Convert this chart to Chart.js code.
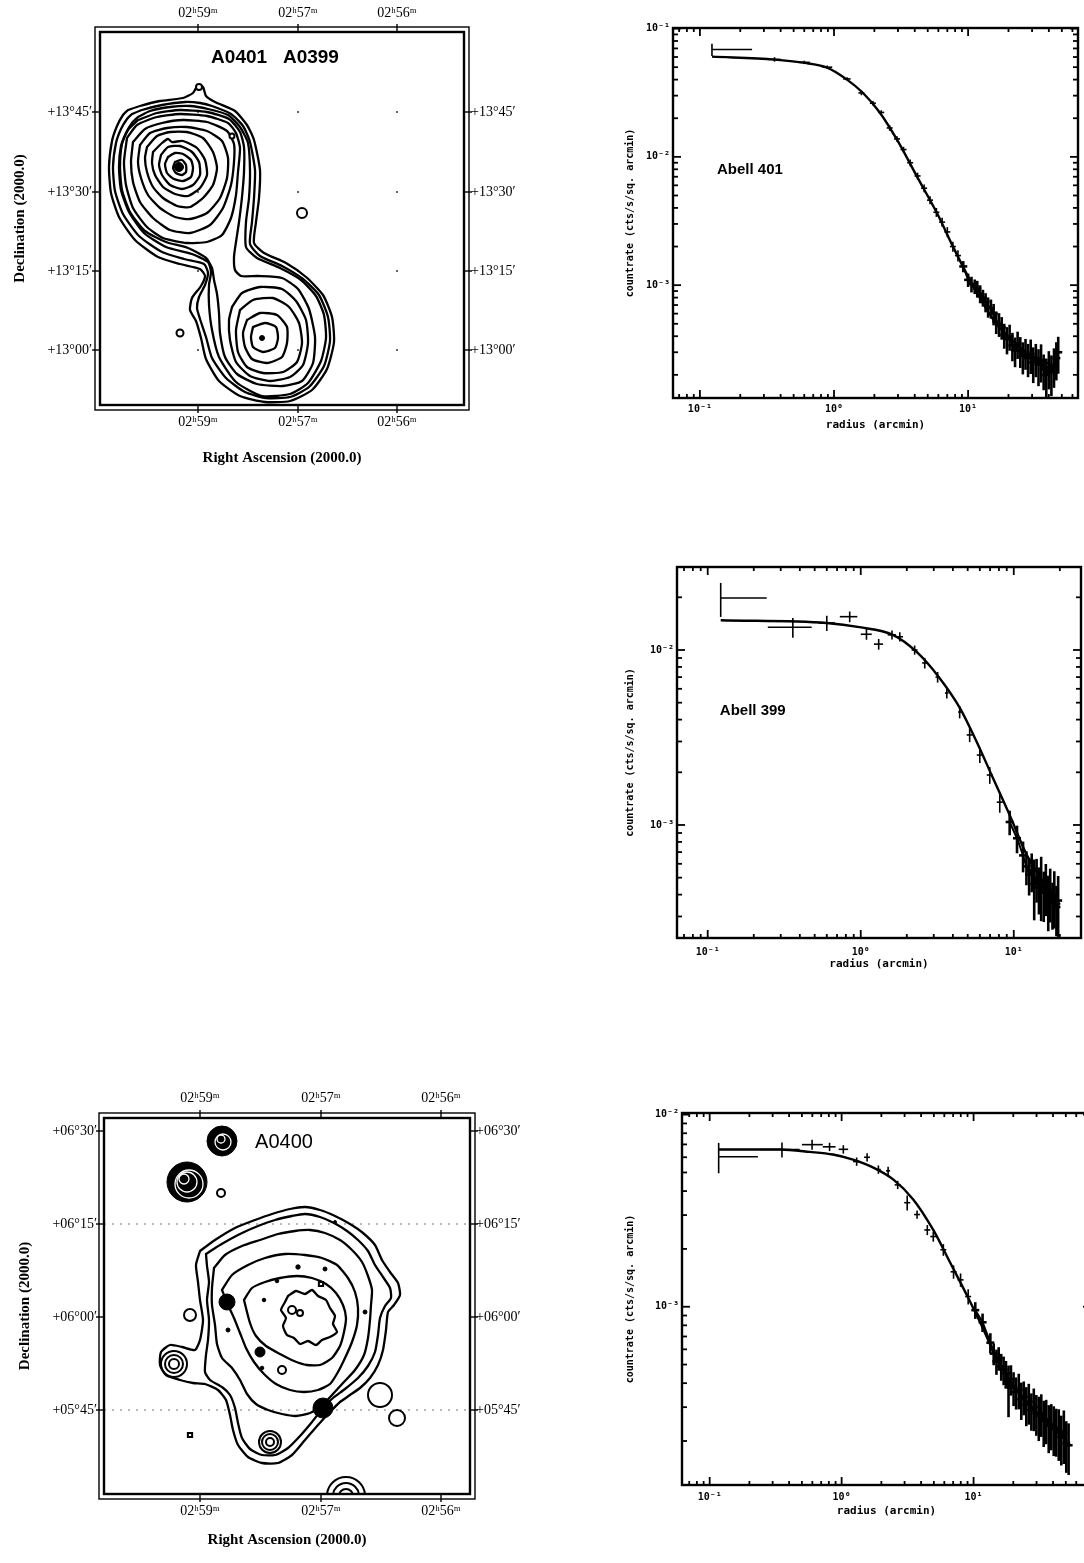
<!DOCTYPE html>
<html>
<head>
<meta charset="utf-8">
<title>A0401 / A0399 / A0400 X-ray maps and profiles</title>
<script src="https://cdn.jsdelivr.net/npm/chart.js@4.4.1/dist/chart.umd.min.js"></script>
<style>
  html, body { margin: 0; padding: 0; background: #fff; }
  body { position: relative; width: 1084px; height: 1563px; overflow: hidden; }
  .box { position: absolute; }
</style>
</head>
<body>
<div class="box" style="left:0;top:0;width:560px;height:470px"><canvas id="mapA"></canvas></div>
<div class="box" style="left:0;top:1085px;width:560px;height:478px"><canvas id="mapB"></canvas></div>
<div class="box" style="left:620px;top:0;width:464px;height:440px"><canvas id="prof401"></canvas></div>
<div class="box" style="left:620px;top:540px;width:464px;height:440px"><canvas id="prof399"></canvas></div>
<div class="box" style="left:620px;top:1080px;width:480px;height:483px"><canvas id="prof400"></canvas></div>
<script>
// ---- map A (A0401 + A0399): contour vertices in image pixels, y counted down from top of frame
const mapA_raTicks = [98, 198, 297];
const raLabels = ['02ʰ59ᵐ', '02ʰ57ᵐ', '02ʰ56ᵐ'];
const mapA_decTicks = [80, 160, 239, 318];
const mapA_decLabels = ['+13°45′', '+13°30′', '+13°15′', '+13°00′'];

const a401_c1 = [[75,130],[82,128],[86,133],[86,140],[82,143],[76,141],[73,136]];
const a401_c2 = [[68,125],[75,121],[83,122],[91,128],[93,136],[91,145],[83,149],[74,147],[67,141],[65,132]];
const a401_c3 = [[61,123],[68,115],[80,114],[92,120],[99,130],[100,143],[93,153],[82,157],[70,153],[62,143],[59,133]];
const a401_c4 = [[53,120],[62,111],[68,107],[72,110],[83,109],[97,116],[105,128],[107,143],[100,156],[88,164],[75,162],[63,155],[55,143],[52,131]];
const a401_c5 = [[47,115],[57,104],[70,100],[87,100],[103,106],[113,120],[117,136],[113,153],[103,166],[90,175],[77,174],[63,166],[53,155],[47,140],[45,126]];
const a401_c6 = [[40,113],[50,101],[67,96],[87,95],[107,99],[122,109],[128,126],[127,146],[120,166],[107,181],[90,187],[75,185],[60,176],[48,163],[41,146],[38,130]];
const a401_c7 = [[33,110],[45,97],[62,91],[83,88],[107,90],[127,99],[134,112],[134,130],[131,153],[123,176],[110,193],[90,201],[70,198],[53,186],[40,170],[33,150],[31,130]];
const a401_c8 = [[27,106],[37,93],[57,85],[80,82],[107,84],[128,91],[136,101],[140,116],[138,140],[136,163],[131,186],[122,203],[107,210],[87,211],[63,206],[47,195],[33,176],[26,153],[24,130]];
const a399_d1 = [[153,295],[165,291],[176,295],[178,306],[175,316],[163,320],[153,315],[151,305]];
const a399_d2 = [[147,288],[160,281],[177,283],[187,295],[187,311],[182,325],[167,331],[152,327],[145,315],[143,301]];
const a399_d3 = [[140,278],[153,268],[173,266],[189,275],[199,291],[202,311],[197,330],[183,340],[163,341],[147,335],[138,320],[136,298]];
const a399_d4 = [[132,275],[142,261],[160,255],[182,257],[196,269],[206,288],[208,311],[203,333],[190,345],[170,349],[150,344],[136,330],[130,308],[129,288]];
const pair_e4 = [[38,88],[57,81],[80,78],[107,80],[129,87],[140,100],[144,115],[144,140],[142,165],[139,190],[136,210],[134,225],[135,238],[141,244],[158,244],[182,246],[198,257],[209,277],[215,305],[213,331],[202,349],[183,354],[157,352],[137,342],[125,325],[120,301],[119,281],[117,262],[114,248],[112,236],[106,226],[88,216],[66,210],[45,199],[30,180],[22,158],[20,135],[22,112],[28,98]];
const pair_e3 = [[38,85],[50,79],[70,75],[90,74],[108,77],[128,83],[140,95],[148,111],[150,138],[149,166],[146,190],[146,215],[157,226],[180,236],[201,248],[216,264],[224,283],[226,306],[221,329],[208,351],[190,362],[162,364],[136,350],[119,325],[112,298],[109,273],[109,253],[111,240],[108,230],[92,222],[66,215],[44,201],[29,180],[21,158],[19,135],[21,114],[26,101],[32,91]];
const pair_e2 = [[32,82],[42,78],[62,73],[85,70],[100,71],[112,74],[131,82],[143,94],[150,110],[155,138],[154,166],[152,190],[150,212],[160,224],[182,234],[203,247],[219,263],[228,285],[230,309],[224,334],[209,355],[190,365],[166,366],[145,360],[126,346],[112,326],[106,305],[100,287],[97,276],[99,265],[105,253],[108,241],[104,232],[84,227],[62,220],[39,204],[23,182],[15,159],[13,135],[16,111],[21,97],[27,87]];
const pair_e1 = [[28,78],[40,74],[60,69],[83,66],[93,61],[98,53],[103,55],[106,64],[115,70],[135,79],[147,93],[154,108],[160,138],[159,166],[156,190],[154,211],[164,221],[186,231],[206,245],[223,263],[232,285],[234,310],[227,337],[212,358],[190,369],[165,370],[140,364],[119,349],[106,327],[101,306],[96,289],[90,278],[92,266],[101,254],[105,244],[100,237],[80,232],[58,225],[35,208],[19,185],[11,161],[9,135],[12,109],[17,94],[23,83]];

const mapA_coreX = [79, 162];
const mapA_coreY = [135, 306];
const mapA_loopX = [99, 202, 80, 132];
const mapA_loopY = [55, 181, 301, 104];

// ---- map B (A0400)
const mapB_raTicks = [96, 217, 337];
const mapB_decTicks = [13, 106, 199, 292];
const mapB_decLabels = ['+06°30′', '+06°15′', '+06°00′', '+05°45′'];
const mapB_dottedDec = [106, 292];

const a400_o1 = [[96,133],[111,122],[131,110],[151,102],[168,96],[186,91],[201,89],[216,92],[231,98],[246,106],[259,115],[271,127],[278,142],[286,154],[294,165],[296,177],[290,187],[284,194],[282,212],[279,232],[274,247],[266,260],[256,270],[246,277],[236,284],[226,294],[214,307],[201,322],[188,337],[174,345],[158,345],[144,339],[134,327],[129,312],[126,297],[122,282],[114,272],[101,266],[89,265],[76,262],[62,257],[56,247],[57,234],[66,227],[78,229],[91,232],[96,222],[99,202],[96,182],[94,164],[92,147]];
const a400_o2 = [[102,136],[116,127],[136,116],[154,108],[171,102],[188,98],[201,96],[216,99],[230,105],[243,113],[254,122],[264,133],[271,147],[279,159],[286,170],[287,180],[281,188],[276,200],[274,217],[271,234],[264,248],[254,260],[241,271],[229,280],[219,290],[208,304],[196,318],[184,330],[171,337],[158,337],[146,331],[138,320],[134,305],[131,290],[126,277],[118,269],[106,262],[101,254],[102,237],[104,222],[105,202],[103,182],[105,164],[103,148]];
const a400_o3 = [[110,150],[121,137],[138,128],[156,122],[174,116],[191,113],[206,112],[221,115],[236,122],[248,132],[258,144],[264,158],[268,172],[267,187],[266,202],[264,220],[260,237],[251,252],[239,265],[228,277],[218,288],[206,295],[192,298],[178,296],[164,292],[152,286],[143,276],[136,262],[128,250],[118,240],[113,226],[111,207],[108,187],[108,170]];
const a400_o4 = [[118,172],[128,157],[144,147],[161,140],[181,136],[201,137],[218,140],[233,147],[244,160],[251,174],[254,190],[253,207],[248,224],[241,240],[234,254],[226,266],[214,272],[200,274],[186,272],[172,266],[160,256],[150,244],[142,230],[136,215],[130,200],[124,187]];
const a400_o5 = [[140,182],[148,170],[161,164],[176,160],[193,158],[208,160],[222,166],[232,175],[239,187],[242,200],[240,214],[236,228],[228,240],[216,247],[203,247],[190,243],[176,236],[162,228],[152,218],[146,205]];
const a400_k1 = [[184,178],[192,173],[201,176],[208,172],[214,178],[222,182],[226,190],[231,198],[229,206],[233,214],[226,219],[218,222],[212,227],[204,223],[196,226],[190,220],[183,217],[179,208],[182,200],[177,192],[181,184]];

const mapB_diskX = [118, 83, 123, 156, 219];
const mapB_diskY = [23, 64, 184, 234, 290];
const mapB_innerX = [117, 119, 80, 83, 85];
const mapB_innerY = [21, 24, 61, 64, 66];
const mapB_dotX = [124, 194, 221, 173, 160, 231, 261, 158];
const mapB_dotY = [212, 149, 151, 163, 182, 104, 194, 250];
const mapB_ringX = [117, 86, 178, 276, 293, 70, 70, 70, 166, 166, 166, 242, 242, 242, 188, 196];
const mapB_ringY = [75, 197, 252, 277, 300, 246, 246, 246, 324, 324, 324, 378, 378, 378, 192, 195];
const mapB_boxX = [217, 86];
const mapB_boxY = [166, 317];

// ---- radial profiles (radius in arcmin, count rate in cts/s/sq. arcmin)
const xTickVals = [0.1, 1, 10];
const xTickLabels = ['10⁻¹', '10⁰', '10¹'];

const p1R = [0.123, 0.36, 0.60, 0.89, 1.25, 1.60, 1.95, 2.25, 2.6, 2.95,
  3.3, 3.7, 4.2, 4.7, 5.2, 5.8, 6.4, 7.0, 7.7, 8.4,
  9.2, 10.0, 10.6, 11.2, 11.7, 12.3, 12.9, 13.5, 14.1, 14.8,
  15.5, 16.2, 17.0, 17.8, 18.6, 19.5, 20.4, 21.4, 22.4, 23.4,
  24.5, 25.6, 26.8, 28.0, 29.3, 30.6, 32.0, 33.5, 35.0, 36.6,
  38.3, 40.0, 41.8, 43.7, 45.5, 47.0];
const p1Rate = [0.0686, 0.0575, 0.0545, 0.0500, 0.0405, 0.0315, 0.0262, 0.0222, 0.0168, 0.0138,
  0.0114, 0.0090, 0.0071, 0.0057, 0.0046, 0.0037, 0.0031, 0.0026, 0.0020, 0.0017,
  0.0014, 0.00110, 0.00102, 0.00098, 0.00094, 0.00086, 0.00080, 0.00074, 0.00068, 0.00066,
  0.00060, 0.00052, 0.00050, 0.00047, 0.00041, 0.00038, 0.00040, 0.00034, 0.00031, 0.00035,
  0.00031, 0.00028, 0.00030, 0.00027, 0.00029, 0.00025, 0.00027, 0.00024, 0.00026, 0.00022,
  0.00020, 0.00023, 0.00021, 0.00024, 0.00027, 0.00030];
const p1Err = [0.11, 0.04, 0.03, 0.03, 0.03, 0.04, 0.04, 0.04, 0.05, 0.05,
  0.05, 0.06, 0.06, 0.07, 0.07, 0.08, 0.08, 0.09, 0.09, 0.10,
  0.10, 0.12, 0.14, 0.13, 0.15, 0.16, 0.15, 0.17, 0.18, 0.17,
  0.19, 0.20, 0.21, 0.20, 0.22, 0.24, 0.23, 0.25, 0.26, 0.24,
  0.27, 0.28, 0.27, 0.29, 0.30, 0.31, 0.29, 0.32, 0.33, 0.31,
  0.34, 0.33, 0.35, 0.34, 0.33, 0.32];
const p1Bins = [[0.123, 0.245], [0.32, 0.40], [0.55, 0.66], [0.82, 0.97], [1.17, 1.33], [1.52, 1.68]];
const p1ModelR = [0.123, 0.363, 0.587, 0.887, 1.25, 1.64, 2.2, 2.95, 4.17, 5.87, 7.73, 10.3, 15.4, 22, 30, 46];
const p1ModelRate = [0.0604, 0.0573, 0.0542, 0.0496, 0.040, 0.0316, 0.0221, 0.0136, 0.00698, 0.00363, 0.00199, 0.0011, 0.00054, 0.00036, 0.00028, 0.00023];
const p1YTicks = [0.1, 0.01, 0.001];
const p1YLabels = ['10⁻¹', '10⁻²', '10⁻³'];

const p2R = [0.1216, 0.36, 0.60, 0.847, 1.09, 1.31, 1.60, 1.80, 2.25, 2.62,
  3.18, 3.65, 4.43, 5.15, 6.0, 6.97, 8.1, 9.4, 10.5, 11.5,
  12.1, 12.6, 13.1, 13.6, 14.1, 14.6, 15.1, 15.7, 16.2, 16.8,
  17.3, 17.9, 18.4, 19.0, 19.5];
const p2Rate = [0.0198, 0.0135, 0.01426, 0.0155, 0.0123, 0.0108, 0.0122, 0.0119, 0.0100, 0.00843,
  0.0070, 0.00568, 0.00442, 0.00327, 0.00251, 0.00193, 0.00135, 0.00104, 0.00084, 0.00067,
  0.00058, 0.00052, 0.00055, 0.00046, 0.00050, 0.00044, 0.00047, 0.00041, 0.00045, 0.00038,
  0.00042, 0.00036, 0.00040, 0.00034, 0.00037];
const p2Err = [0.22, 0.13, 0.10, 0.07, 0.07, 0.07, 0.06, 0.06, 0.06, 0.07,
  0.07, 0.07, 0.08, 0.09, 0.10, 0.11, 0.13, 0.16, 0.18, 0.20,
  0.22, 0.24, 0.25, 0.38, 0.28, 0.30, 0.40, 0.32, 0.33, 0.35,
  0.34, 0.30, 0.36, 0.32, 0.38];
const p2Bins = [[0.1216, 0.243], [0.247, 0.478], [0.53, 0.68], [0.73, 0.95], [1.0, 1.18], [1.22, 1.40],
  [1.50, 1.70], [1.71, 1.89], [2.15, 2.35], [2.52, 2.72], [3.08, 3.28], [3.55, 3.75], [4.33, 4.53]];
const p2ModelR = [0.1216, 0.6, 0.98, 1.62, 2.32, 3.28, 4.44, 5.73, 7.3, 9.4, 12.2, 16, 20];
const p2ModelRate = [0.0148, 0.01426, 0.0135, 0.0122, 0.00974, 0.0069, 0.00467, 0.00298, 0.00186, 0.00114, 0.00067, 0.00046, 0.00035];
const p2YTicks = [0.01, 0.001];
const p2YLabels = ['10⁻²', '10⁻³'];

const p3R = [0.117, 0.353, 0.597, 0.81, 1.03, 1.30, 1.56, 1.90, 2.25, 2.66,
  3.14, 3.73, 4.46, 4.95, 5.9, 7.05, 7.97, 9.1, 10.3, 11.7,
  13.4, 14.2, 14.9, 15.5, 16.2, 16.9, 17.6, 18.4, 19.2, 20.1,
  21.0, 22.0, 23.0, 24.0, 25.1, 26.2, 27.4, 28.6, 29.9, 31.2,
  32.6, 34.0, 35.5, 37.1, 38.8, 40.5, 42.3, 44.2, 46.2, 48.3,
  50.4, 52.5];
const p3Rate = [0.00604, 0.00658, 0.00698, 0.0068, 0.0066, 0.0057, 0.0060, 0.00518, 0.0051, 0.00431,
  0.00348, 0.00302, 0.00251, 0.00232, 0.00198, 0.00152, 0.00138, 0.00113, 0.00096, 0.00083,
  0.00065, 0.00057, 0.00052, 0.00054, 0.00049, 0.00047, 0.00045, 0.00038, 0.00042, 0.00038,
  0.00036, 0.00037, 0.00033, 0.00034, 0.00031, 0.00032, 0.00029, 0.00030, 0.00028, 0.00027,
  0.00028, 0.000255, 0.00026, 0.00024, 0.000245, 0.000235, 0.00023, 0.000225, 0.00021, 0.00022,
  0.000195, 0.00019];
const p3Err = [0.18, 0.09, 0.06, 0.05, 0.05, 0.05, 0.05, 0.05, 0.05, 0.05,
  0.09, 0.05, 0.06, 0.06, 0.07, 0.08, 0.08, 0.09, 0.10, 0.11,
  0.12, 0.13, 0.15, 0.14, 0.16, 0.17, 0.16, 0.30, 0.18, 0.20,
  0.19, 0.21, 0.22, 0.20, 0.23, 0.24, 0.22, 0.25, 0.24, 0.26,
  0.25, 0.27, 0.26, 0.28, 0.27, 0.29, 0.28, 0.30, 0.29, 0.31,
  0.30, 0.30];
const p3Bins = [[0.117, 0.232], [0.24, 0.48], [0.50, 0.72], [0.72, 0.90], [0.95, 1.12], [1.22, 1.38],
  [1.48, 1.64], [1.82, 1.98], [2.17, 2.33]];
const p3ModelR = [0.117, 0.34, 0.575, 0.86, 1.22, 1.74, 2.47, 3.5, 4.95, 6.67, 9.0, 11.9, 14.2, 20, 30, 51];
const p3ModelRate = [0.00658, 0.00658, 0.0064, 0.0062, 0.00583, 0.0053, 0.00459, 0.00361, 0.00251, 0.00169, 0.00113, 0.00076, 0.00058, 0.00039, 0.00028, 0.0002];
const p3YTicks = [0.01, 0.001];
const p3YLabels = ['10⁻²', '10⁻³'];

// ---------------------------------------------------------------------------
Chart.defaults.font.family = '"Liberation Serif", "DejaVu Serif", serif';
Chart.defaults.color = '#000';

const closed = arr => arr.concat([arr[0]]).map(p => ({ x: p[0], y: p[1] }));
const xy = (xs, ys) => xs.map((x, i) => ({ x, y: ys[i] }));

function stroke(ctx, x0, y0, x1, y1) {
  ctx.beginPath(); ctx.moveTo(x0, y0); ctx.lineTo(x1, y1); ctx.stroke();
}

// double frame, small ticks and dotted grid of the contour maps
const mapFrame = {
  id: 'mapFrame',
  beforeDatasetsDraw(chart, args, opts) {
    const { ctx, chartArea: a, scales: { x, y } } = chart;
    ctx.save();
    ctx.strokeStyle = '#777';
    ctx.lineWidth = 1;
    ctx.setLineDash([2, 6]);
    (opts.dotted || []).forEach(v => {
      const py = y.getPixelForValue(v);
      stroke(ctx, a.left, py, a.right, py);
    });
    ctx.setLineDash([]);
    ctx.fillStyle = '#666';
    if (opts.dots) {
      x.ticks.forEach(tx => y.ticks.forEach(ty => {
        ctx.fillRect(x.getPixelForValue(tx.value) - 1, y.getPixelForValue(ty.value) - 1, 2, 2);
      }));
    }
    ctx.restore();
  },
  afterDraw(chart, args, opts) {
    const { ctx, chartArea: a, scales: { x, y } } = chart;
    ctx.save();
    ctx.strokeStyle = '#000';
    ctx.lineWidth = 2.4;
    ctx.strokeRect(a.left, a.top, a.width, a.height);
    ctx.lineWidth = 1.4;
    ctx.strokeRect(a.left - 5, a.top - 5, a.width + 10, a.height + 10);
    x.ticks.forEach(t => {
      const px = x.getPixelForValue(t.value);
      stroke(ctx, px, a.top - 8, px, a.top);
      stroke(ctx, px, a.bottom, px, a.bottom + 8);
    });
    y.ticks.forEach(t => {
      const py = y.getPixelForValue(t.value);
      stroke(ctx, a.left - 8, py, a.left, py);
      stroke(ctx, a.right, py, a.right + 8, py);
    });
    if (opts.title) {
      ctx.fillStyle = '#000';
      ctx.font = opts.title.font;
      ctx.textAlign = 'center';
      ctx.textBaseline = 'middle';
      ctx.fillText(opts.title.text, x.getPixelForValue(opts.title.x), y.getPixelForValue(opts.title.y));
    }
    ctx.restore();
  }
};

// frame with inward log ticks on all four sides, plus the panel label
const logFrame = {
  id: 'logFrame',
  afterDraw(chart, args, opts) {
    const { ctx, chartArea: a, scales: { x, y } } = chart;
    const steps = s => {
      const out = [];
      for (let k = Math.floor(Math.log10(s.min)); k <= Math.ceil(Math.log10(s.max)); k++) {
        for (let m = 1; m <= 9; m++) {
          const v = m * Math.pow(10, k);
          if (v >= s.min && v <= s.max) out.push({ v, major: m === 1 });
        }
      }
      return out;
    };
    ctx.save();
    ctx.strokeStyle = '#000';
    ctx.lineWidth = 2.4;
    ctx.strokeRect(a.left, a.top, a.width, a.height);
    ctx.lineWidth = 1.8;
    steps(x).forEach(t => {
      const px = x.getPixelForValue(t.v), len = t.major ? 8 : 4;
      stroke(ctx, px, a.bottom, px, a.bottom - len);
      stroke(ctx, px, a.top, px, a.top + len);
    });
    steps(y).forEach(t => {
      const py = y.getPixelForValue(t.v), len = t.major ? 8 : 5;
      stroke(ctx, a.left, py, a.left + len, py);
      stroke(ctx, a.right, py, a.right - len, py);
    });
    if (opts.label) {
      ctx.fillStyle = '#000';
      ctx.font = 'bold 15px "Liberation Sans", Arial, sans-serif';
      ctx.textAlign = 'left';
      ctx.textBaseline = 'middle';
      ctx.fillText(opts.label.text, x.getPixelForValue(opts.label.x), y.getPixelForValue(opts.label.y));
    }
    ctx.restore();
  }
};

// error bars for the profile points (heavier in the noisy outer band)
const errorBars = {
  id: 'errorBars',
  afterDatasetsDraw(chart) {
    const { ctx, chartArea: a, scales: { x, y } } = chart;
    ctx.save();
    ctx.beginPath();
    ctx.rect(a.left, a.top, a.width, a.height);
    ctx.clip();
    ctx.strokeStyle = '#000';
    chart.data.datasets.forEach(ds => {
      if (!ds.errRel) return;
      ds.data.forEach((p, i) => {
        const px = x.getPixelForValue(p.x);
        const py = y.getPixelForValue(p.y);
        const e = ds.errRel[i];
        const inBand = i >= ds.band;
        ctx.lineWidth = inBand ? 2.6 : 1.6;
        stroke(ctx, px, y.getPixelForValue(p.y * (1 - e)), px, y.getPixelForValue(p.y * (1 + e)));
        const bin = ds.bins[i];
        if (bin) {
          ctx.lineWidth = 1.6;
          stroke(ctx, x.getPixelForValue(bin[0]), py, x.getPixelForValue(bin[1]), py);
        } else {
          const h = inBand ? 4 : 3;
          stroke(ctx, px - h, py, px + h, py);
        }
      });
    });
    ctx.restore();
  }
};

function mapAxis(pos, max, ticks, labels, size, pad, title, rev) {
  const horiz = pos === 'top' || pos === 'bottom';
  return {
    type: 'linear', position: pos, min: 0, max, reverse: !!rev,
    afterBuildTicks: s => { s.ticks = ticks.map(v => ({ value: v })); },
    afterFit: s => { if (horiz) s.height = size; else s.width = size; },
    ticks: {
      autoSkip: false, maxRotation: 0, padding: pad, color: '#000',
      font: { family: '"Liberation Serif", "DejaVu Serif", serif', size: 14 },
      callback: (v, i) => labels[i]
    },
    grid: { display: false, drawTicks: false },
    border: { display: false },
    title: title || { display: false }
  };
}

function ringSet(xs, ys, sizes, fill, color, width, style) {
  return {
    data: xy(xs, ys), showLine: false, pointStyle: style || 'circle',
    pointRadius: sizes, pointHoverRadius: sizes,
    backgroundColor: fill, pointBackgroundColor: fill,
    borderColor: color, pointBorderColor: color,
    borderWidth: width, pointBorderWidth: width
  };
}

function makeMap(id, m) {
  // Chart.js paints the last dataset first, so marks go in front of the contours
  const datasets = m.marks.slice();
  m.contours.forEach(c => datasets.push({
    data: closed(c), showLine: true, borderColor: '#000', borderWidth: 2.3,
    pointRadius: 0, tension: 0.2, borderJoinStyle: 'round', borderCapStyle: 'round'
  }));
  const titleFont = { family: '"Liberation Serif", "DejaVu Serif", serif', size: 15, weight: 'bold' };
  new Chart(document.getElementById(id), {
    type: 'scatter',
    data: { datasets },
    options: {
      responsive: true, maintainAspectRatio: false, animation: false, events: [],
      layout: { padding: 0 },
      plugins: { legend: { display: false }, tooltip: { enabled: false }, mapFrame: m.frame },
      scales: {
        x: mapAxis('bottom', m.w, m.raTicks, raLabels, m.bottom, m.padBottom,
          { display: true, text: 'Right Ascension (2000.0)', font: titleFont, color: '#000', padding: { top: 0, bottom: m.titleBottom } }),
        x2: mapAxis('top', m.w, m.raTicks, raLabels, m.top, m.padTop),
        y: mapAxis('left', m.h, m.decTicks, m.decLabels, m.left, m.padLeft,
          { display: true, text: 'Declination (2000.0)', font: titleFont, color: '#000', padding: { top: m.titleLeft, bottom: 0 } }, true),
        y2: mapAxis('right', m.h, m.decTicks, m.decLabels, m.right, m.padRight, null, true)
      }
    },
    plugins: [mapFrame]
  });
}

function makeProfile(id, p) {
  const pts = xy(p.r, p.rate);
  const mono = '"DejaVu Sans Mono", "Liberation Mono", monospace';
  new Chart(document.getElementById(id), {
    type: 'scatter',
    data: {
      datasets: [
        { data: xy(p.modelR, p.modelRate), showLine: true, borderColor: '#000', borderWidth: 2.4,
          pointRadius: 0, tension: 0.4, cubicInterpolationMode: 'monotone' },
        { data: pts.slice(p.band), showLine: true, borderColor: '#000', borderWidth: 2,
          pointRadius: 0, tension: 0 },
        { data: pts, showLine: false, pointRadius: 0, errRel: p.err, bins: p.bins, band: p.band }
      ]
    },
    options: {
      responsive: true, maintainAspectRatio: false, animation: false, events: [],
      layout: { padding: { top: p.top, right: p.right, left: 0, bottom: 0 } },
      plugins: { legend: { display: false }, tooltip: { enabled: false }, logFrame: { label: p.label } },
      scales: {
        x: {
          type: 'logarithmic', min: p.xMin, max: p.xMax,
          afterBuildTicks: s => { s.ticks = xTickVals.map(v => ({ value: v })); },
          afterFit: s => { s.height = p.xh; },
          ticks: { autoSkip: false, maxRotation: 0, padding: p.xPad, color: '#000',
            font: { family: mono, size: 10, weight: 'bold' }, callback: (v, i) => xTickLabels[i] },
          grid: { display: false, drawTicks: false },
          border: { display: false },
          title: { display: true, text: 'radius (arcmin)', color: '#000',
            font: { family: mono, size: 11, weight: 'bold' }, padding: { top: 0, bottom: p.xtPad } }
        },
        y: {
          type: 'logarithmic', min: p.yMin, max: p.yMax,
          afterBuildTicks: s => { s.ticks = p.yTicks.map(v => ({ value: v })); },
          afterFit: s => { s.width = p.yw; },
          ticks: { autoSkip: false, padding: 3, color: '#000',
            font: { family: mono, size: 10, weight: 'bold' }, callback: (v, i) => p.yLabels[i] },
          grid: { display: false, drawTicks: false },
          border: { display: false },
          title: { display: true, text: 'countrate (cts/s/sq. arcmin)', color: '#000',
            font: { family: mono, size: 10, weight: 'bold' }, padding: { top: 4, bottom: 0 } }
        }
      }
    },
    plugins: [logFrame, errorBars]
  });
}

// ---- A0401 / A0399
makeMap('mapA', {
  w: 364, h: 373,
  raTicks: mapA_raTicks, decTicks: mapA_decTicks, decLabels: mapA_decLabels,
  left: 100, right: 96, top: 32, bottom: 65,
  padBottom: 9, padTop: 10, padLeft: 8, padRight: 7, titleBottom: 3, titleLeft: 11,
  contours: [a401_c1, a401_c2, a401_c3, a401_c4, a401_c5, a401_c6, a401_c7, a401_c8,
    a399_d1, a399_d2, a399_d3, a399_d4, pair_e4, pair_e3, pair_e2, pair_e1],
  marks: [
    ringSet(mapA_coreX, mapA_coreY, [4.5, 2.5], '#000', '#000', 1),
    ringSet(mapA_loopX, mapA_loopY, [3, 5, 3.5, 2.5], '#fff', '#000', 2)
  ],
  frame: { dots: true, title: { text: 'A0401   A0399', x: 175, y: 26, font: 'bold 19px "Liberation Sans", Arial, sans-serif' } }
});

// ---- A0400 (first entries are painted on top)
makeMap('mapB', {
  w: 366, h: 376,
  raTicks: mapB_raTicks, decTicks: mapB_decTicks, decLabels: mapB_decLabels,
  left: 104, right: 90, top: 33, bottom: 69,
  padBottom: 9, padTop: 11, padLeft: 7, padRight: 6, titleBottom: 14, titleLeft: 16,
  contours: [a400_k1, a400_o5, a400_o4, a400_o3, a400_o2, a400_o1],
  marks: [
    ringSet(mapB_innerX, mapB_innerY, [4, 8, 5, 10, 14], 'rgba(0,0,0,0)', '#fff', 1.3),
    ringSet(mapB_diskX, mapB_diskY, [15, 20, 8, 5, 10], '#000', '#000', 1),
    ringSet(mapB_dotX, mapB_dotY, [2, 2.2, 2, 1.8, 1.8, 1.5, 2, 1.8], '#000', '#000', 1),
    ringSet(mapB_ringX, mapB_ringY, [4, 6, 4, 12, 8, 5, 9, 13, 4, 8, 11, 7, 13, 19, 4, 3], 'rgba(0,0,0,0)', '#000', 2),
    ringSet(mapB_boxX, mapB_boxY, [3, 3], 'rgba(0,0,0,0)', '#000', 2, 'rect')
  ],
  frame: { dotted: mapB_dottedDec, title: { text: 'A0400', x: 180, y: 24, font: '20px "Liberation Sans", Arial, sans-serif' } }
});

// ---- profiles
makeProfile('prof401', {
  r: p1R, rate: p1Rate, err: p1Err, bins: p1Bins, band: 20,
  modelR: p1ModelR, modelRate: p1ModelRate,
  xMin: 0.063, xMax: 66, yMin: 0.000132, yMax: 0.101,
  yTicks: p1YTicks, yLabels: p1YLabels,
  top: 28, right: 6, yw: 53, xh: 42, xPad: 5, xtPad: 8,
  label: { text: 'Abell 401', x: 0.134, y: 0.0079 }
});
makeProfile('prof399', {
  r: p2R, rate: p2Rate, err: p2Err, bins: p2Bins, band: 17,
  modelR: p2ModelR, modelRate: p2ModelRate,
  xMin: 0.063, xMax: 27.5, yMin: 0.000226, yMax: 0.0298,
  yTicks: p2YTicks, yLabels: p2YLabels,
  top: 27, right: 3, yw: 57, xh: 42, xPad: 8, xtPad: 9,
  label: { text: 'Abell 399', x: 0.12, y: 0.00448 }
});
makeProfile('prof400', {
  r: p3R, rate: p3Rate, err: p3Err, bins: p3Bins, band: 18,
  modelR: p3ModelR, modelRate: p3ModelRate,
  xMin: 0.0617, xMax: 77.6, yMin: 0.000118, yMax: 0.0102,
  yTicks: p3YTicks, yLabels: p3YLabels,
  top: 33, right: 9, yw: 62, xh: 78, xPad: 6, xtPad: 45,
  label: null
});
</script>
</body>
</html>
